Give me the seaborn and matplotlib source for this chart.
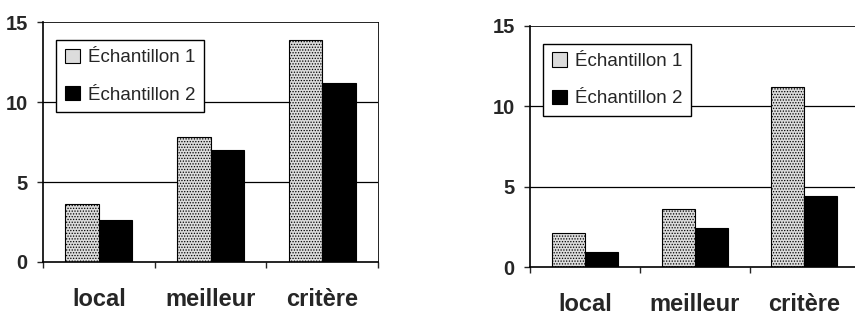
import numpy as np
import pandas as pd
import matplotlib.pyplot as plt
import seaborn as sns

categories = ["local", "meilleur", "critère"]
series = ["Échantillon 1", "Échantillon 2"]
left_ech1 = [3.6, 7.8, 13.9]
left_ech2 = [2.6, 7.0, 11.2]
right_ech1 = [2.1, 3.6, 11.2]
right_ech2 = [0.93, 2.4, 4.4]
yticks = [0, 5, 10, 15]


def make_df(v1, v2):
    return pd.DataFrame({
        "categorie": categories * 2,
        "serie": [series[0]] * 3 + [series[1]] * 3,
        "valeur": list(v1) + list(v2),
    })


sns.set_style("white")
plt.rcParams["font.family"] = ["Liberation Sans", "DejaVu Sans"]
plt.rcParams["hatch.color"] = "#7a7a7a"
plt.rcParams["hatch.linewidth"] = 0.6

fig = plt.figure(figsize=(8.55, 3.16), dpi=100)
ax1 = fig.add_axes([0.0503, 0.171, 0.392, 0.759])
ax2 = fig.add_axes([0.620, 0.155, 0.385, 0.763])

palette = {series[0]: "#dcdcdc", series[1]: "black"}

for ax, v1, v2, show_right in [(ax1, left_ech1, left_ech2, True),
                               (ax2, right_ech1, right_ech2, False)]:
    df = make_df(v1, v2)
    sns.barplot(data=df, x="categorie", y="valeur", hue="serie", order=categories,
                hue_order=series, palette=palette, width=0.6, ax=ax,
                edgecolor="black", linewidth=0.8, saturation=1)
    # texture pointillee pour l'echantillon 1
    for bar in ax.containers[0]:
        bar.set_hatch("......")
    ax.set_xlim(-0.5, 2.5)
    ax.set_ylim(0, 15)
    ax.set_yticks(yticks)
    ax.set_yticklabels([str(t) for t in yticks], fontsize=14.5, fontweight="bold")
    for y in [5, 10]:
        ax.axhline(y, color="black", lw=0.9, zorder=0)
    ax.set_xticks([-0.5, 0.5, 1.5, 2.5])
    ax.set_xticklabels([])
    ax.set_xticks([0, 1, 2], minor=True)
    ax.set_xticklabels(categories, minor=True, fontsize=17, fontweight="bold")
    ax.tick_params(axis="x", which="major", direction="out", length=4, width=1, bottom=True)
    ax.tick_params(axis="x", which="minor", length=0, pad=19)
    ax.tick_params(axis="y", direction="out", length=4.5, width=1, left=True, pad=6.5)
    ax.set_xlabel("")
    ax.set_ylabel("")
    for s in ax.spines.values():
        s.set_color("black")
        s.set_linewidth(0.9)
    ax.spines["left"].set_linewidth(1.2)
    ax.spines["bottom"].set_linewidth(1.2)
    ax.spines["top"].set_linewidth(0.6)
    ax.spines["right"].set_linewidth(0.6)
    ax.spines["right"].set_visible(show_right)
    leg = ax.legend(loc="upper left", bbox_to_anchor=(0.04, 0.925), borderaxespad=0,
                    fontsize=13.5, frameon=True, fancybox=False, framealpha=1,
                    edgecolor="black", handlelength=0.8, handleheight=0.8,
                    handletextpad=0.45, labelspacing=1.05, borderpad=0.45)
    leg.get_frame().set_linewidth(1.0)
    leg.set_title(None)

fig.savefig("out.png", dpi=100)
